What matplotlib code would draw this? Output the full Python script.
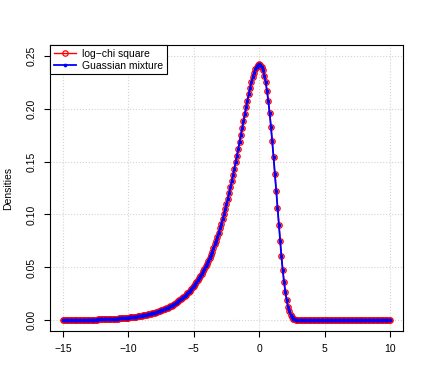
import numpy as np
import matplotlib
matplotlib.use("Agg")
import matplotlib.pyplot as plt

plt.rcParams['font.family'] = ['Liberation Sans', 'DejaVu Sans']

# grid of x values, -15 to 10 by 0.1
x = np.linspace(-15, 10, 251)

# densities (log-chi square), one row per unit of x
lchi_dens = [
    0.0002, 0.0002, 0.0002, 0.0003, 0.0003, 0.0003, 0.0003, 0.0003, 0.0003, 0.0003,
    0.0004, 0.0004, 0.0004, 0.0004, 0.0004, 0.0005, 0.0005, 0.0005, 0.0005, 0.0006,
    0.0006, 0.0006, 0.0007, 0.0007, 0.0007, 0.0008, 0.0008, 0.0009, 0.0009, 0.0009,
    0.0010, 0.0010, 0.0011, 0.0011, 0.0012, 0.0013, 0.0013, 0.0014, 0.0015, 0.0016,
    0.0016, 0.0017, 0.0018, 0.0019, 0.0020, 0.0021, 0.0022, 0.0023, 0.0024, 0.0026,
    0.0027, 0.0028, 0.0030, 0.0031, 0.0033, 0.0035, 0.0036, 0.0038, 0.0040, 0.0042,
    0.0044, 0.0047, 0.0049, 0.0051, 0.0054, 0.0057, 0.0060, 0.0063, 0.0066, 0.0070,
    0.0073, 0.0077, 0.0081, 0.0085, 0.0089, 0.0094, 0.0099, 0.0104, 0.0109, 0.0115,
    0.0120, 0.0127, 0.0133, 0.0140, 0.0147, 0.0155, 0.0163, 0.0171, 0.0180, 0.0189,
    0.0198, 0.0209, 0.0219, 0.0230, 0.0242, 0.0255, 0.0268, 0.0281, 0.0295, 0.0311,
    0.0326, 0.0343, 0.0360, 0.0379, 0.0398, 0.0418, 0.0439, 0.0462, 0.0485, 0.0509,
    0.0535, 0.0562, 0.0590, 0.0620, 0.0650, 0.0683, 0.0717, 0.0752, 0.0789, 0.0828,
    0.0868, 0.0910, 0.0954, 0.1000, 0.1048, 0.1097, 0.1148, 0.1201, 0.1256, 0.1313,
    0.1372, 0.1432, 0.1493, 0.1556, 0.1620, 0.1686, 0.1751, 0.1817, 0.1883, 0.1949,
    0.2013, 0.2076, 0.2136, 0.2193, 0.2246, 0.2294, 0.2336, 0.2371, 0.2397, 0.2414,
    0.2420, 0.2413, 0.2394, 0.2360, 0.2311, 0.2246, 0.2165, 0.2068, 0.1956, 0.1829,
    0.1690, 0.1540, 0.1382, 0.1220, 0.1058, 0.0898, 0.0746, 0.0605, 0.0477, 0.0364,
    0.0270, 0.0192, 0.0131, 0.0086, 0.0054, 0.0032, 0.0017, 0.0009, 0.0004, 0.0002,
    0.0001, 0.0, 0.0, 0.0, 0.0, 0.0, 0.0, 0.0, 0.0, 0.0,
    0.0, 0.0, 0.0, 0.0, 0.0, 0.0, 0.0, 0.0, 0.0, 0.0,
    0.0, 0.0, 0.0, 0.0, 0.0, 0.0, 0.0, 0.0, 0.0, 0.0,
    0.0, 0.0, 0.0, 0.0, 0.0, 0.0, 0.0, 0.0, 0.0, 0.0,
    0.0, 0.0, 0.0, 0.0, 0.0, 0.0, 0.0, 0.0, 0.0, 0.0,
    0.0, 0.0, 0.0, 0.0, 0.0, 0.0, 0.0, 0.0, 0.0, 0.0,
    0.0, 0.0, 0.0, 0.0, 0.0, 0.0, 0.0, 0.0, 0.0, 0.0,
    0.0,
]
# the mixture lies on top of the log-chi square curve in the picture
gm_dens = list(lchi_dens)

x_ticks = [-15, -10, -5, 0, 5, 10]
y_ticks = [0.00, 0.05, 0.10, 0.15, 0.20, 0.25]

fig = plt.figure(figsize=(4.29, 3.88), dpi=100)
ax = fig.add_axes([50/429, 1 - 331/388, 353/429, 286/388])

ax.plot(x, lchi_dens, color='red', marker='o', mfc='none', ms=3.9, mew=0.9,
        lw=1, label='log\u2212chi square')
ax.plot(x, gm_dens, color='blue', marker='o', ms=2.7, mew=0, lw=1.3,
        label='Guassian mixture')

ax.set_xlim(-16, 11)
ax.set_ylim(-0.01, 0.26)
ax.set_xticks(x_ticks)
ax.set_xticklabels(['\u221215', '\u221210', '\u22125', '0', '5', '10'])
ax.set_yticks(y_ticks)
ax.set_yticklabels(['%.2f' % v for v in y_ticks], rotation=90, va='center')
ax.tick_params(direction='out', length=4.5, width=0.8, labelsize=7.5, pad=5)

for v in x_ticks:
    ax.axvline(v, color='#d3d3d3', ls=':', lw=0.8, zorder=0)
for v in y_ticks:
    ax.axhline(v, color='#d3d3d3', ls=':', lw=0.8, zorder=0)

for s in ax.spines.values():
    s.set_linewidth(0.8)

leg = ax.legend(loc='upper left', fontsize=7.5, borderaxespad=0, fancybox=False,
                edgecolor='black', framealpha=1, handlelength=2.1,
                borderpad=0.35, labelspacing=0.2, handletextpad=0.6)
leg.get_frame().set_linewidth(0.8)

fig.text(8/429, 1 - 188/388, 'Densities', rotation=90, va='center', ha='center',
         fontsize=7.5)

fig.savefig('out.png', dpi=100)
